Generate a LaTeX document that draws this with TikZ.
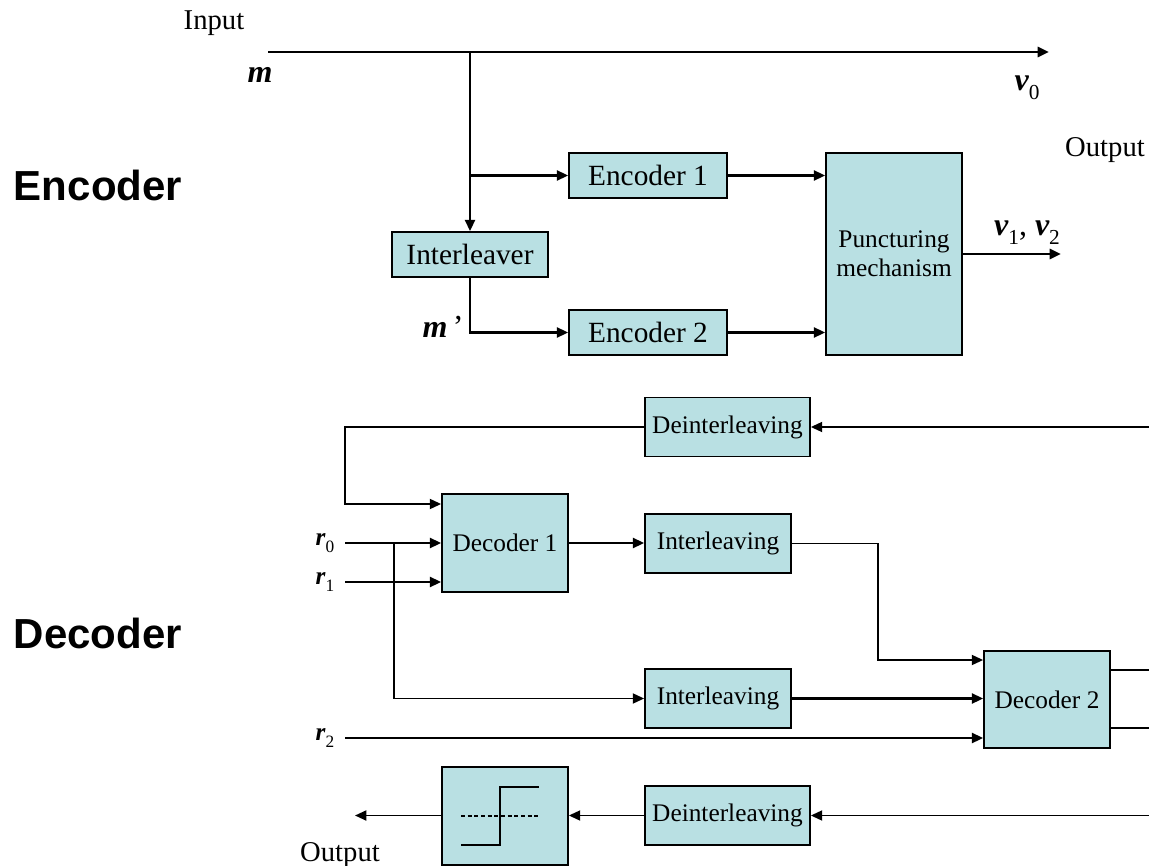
\documentclass[tikz,border=0pt]{standalone}
\usepackage{fontspec}
\setmainfont{Liberation Serif}
\newfontfamily\arialfont{Liberation Sans}
\usetikzlibrary{arrows.meta}
\definecolor{boxfill}{RGB}{185,224,227}
\newcommand{\bv}[1]{{\bfseries\itshape #1}}
\newcommand{\sbs}[1]{\raisebox{-0.28em}{\fontsize{16pt}{16pt}\selectfont #1}}
\newcommand{\sbr}[1]{\raisebox{-0.28em}{\fontsize{13pt}{13pt}\selectfont #1}}
\begin{document}
\begin{tikzpicture}[x=0.75pt,y=-0.75pt,
  box/.style={draw=black,line width=1.3pt,fill=boxfill,inner sep=0pt,font=\fontsize{19pt}{22pt}\selectfont,align=center},
  ebox/.style={box,font=\fontsize{22pt}{24pt}\selectfont},
  wire/.style={line width=1.4pt},
  thk/.style={line width=2pt},
  arr/.style={-{Triangle[length=8.5pt,width=7.5pt]}},
  lbl/.style={font=\fontsize{21.5pt}{24pt}\selectfont,inner sep=0pt},
  vlbl/.style={font=\fontsize{24pt}{26pt}\selectfont,inner sep=0pt},
  rlbl/.style={font=\fontsize{19pt}{21pt}\selectfont,inner sep=0pt},
  big/.style={font=\arialfont\bfseries\fontsize{31.5pt}{34pt}\selectfont,inner sep=0pt}]
\useasboundingbox (0,0) rectangle (1149,866);

% ---------------- Encoder ----------------
\node[big] (enclab) at (98,185) {Encoder};
\node[lbl] (inlab) at (214,23) {Input};
\node[vlbl] (mlab) at (260,75) {\bv{m}};
\node[vlbl] (v0lab) at (1027,88) {\bv{v}\sbs{0}};
\node[lbl] (outlab) at (1105,150) {Output};
\node[vlbl] (v12lab) at (1027,233) {\bv{v}\sbs{1}, \bv{v}\sbs{2}};
\node[vlbl] (mplab) at (443,327) {\bv{m}\,’};

\node[ebox,minimum width={158*0.75pt},minimum height={45*0.75pt}] (enc1) at (648,175.5) {Encoder 1};
\node[ebox,minimum width={158*0.75pt},minimum height={45*0.75pt}] (enc2) at (648,332.5) {Encoder 2};
\node[ebox,minimum width={156*0.75pt},minimum height={45*0.75pt}] (intl) at (470,254.5) {Interleaver};
\node[box,minimum width={136*0.75pt},minimum height={202*0.75pt}] (punct) at (894,254) {Puncturing\\mechanism};

\coordinate (in) at (268,52);
\coordinate (br) at (470,52);
\coordinate (v0end) at (1049,52);
\coordinate (v12end) at (1061,254);

\draw[thk,arr] (in) -- (v0end);
\draw[thk,arr] (br) -- (intl.north);
\draw[thk,arr] (br |- enc1.west) -- (enc1.west);
\draw[thk,arr] (enc1.east) -- (punct.west |- enc1.east);
\draw[thk,arr] (intl.south) |- (enc2.west);
\draw[thk,arr] (enc2.east) -- (punct.west |- enc2.east);
\draw[thk,arr] (punct.east) -- (v12end);

% ---------------- Decoder ----------------
\node[big] (declab) at (98,633) {Decoder};

\node[box,minimum width={165*0.75pt},minimum height={59*0.75pt}] (deint1) at (727.5,427) {Deinterleaving};
\node[box,minimum width={126*0.75pt},minimum height={98*0.75pt}] (dec1) at (505,543) {Decoder 1};
\node[box,minimum width={146*0.75pt},minimum height={59*0.75pt}] (il1) at (718,543.5) {Interleaving};
\node[box,minimum width={146*0.75pt},minimum height={59*0.75pt}] (il2) at (718,698.5) {Interleaving};
\node[box,minimum width={126*0.75pt},minimum height={97*0.75pt}] (dec2) at (1047,699.5) {Decoder 2};
\node[box,minimum width={165*0.75pt},minimum height={59*0.75pt}] (deint2) at (727.5,815.5) {Deinterleaving};
\node[box,minimum width={126*0.75pt},minimum height={98*0.75pt}] (hard) at (505,816) {};

\node[rlbl] (r0lab) at (325,543) {\bv{r}\sbr{0}};
\node[rlbl] (r1lab) at (325,582) {\bv{r}\sbr{1}};
\node[rlbl] (r2lab) at (325,738) {\bv{r}\sbr{2}};
\node[lbl] (outlab2) at (340,855) {Output};

\coordinate (din1) at (1149,427);
\coordinate (l1) at (345,504);
\coordinate (r0) at (345,543);
\coordinate (r1) at (345,582);
\coordinate (r2) at (345,738);
\coordinate (b2) at (394,543);
\coordinate (k) at (878,660);
\coordinate (o1) at (1149,670);
\coordinate (o2) at (1149,728);
\coordinate (din2) at (1149,815.5);
\coordinate (outend) at (355,815.5);

\draw[wire,arr] (din1) -- (deint1.east);
\draw[wire,arr] (deint1.west) -| (l1) -- (dec1.west |- l1);
\draw[thk,arr] (r0) -- (dec1.west);
\draw[thk,arr] (r1) -- (dec1.west |- r1);
\draw[wire,arr] (b2) |- (il2.west);
\draw[thk,arr] (dec1.east) -- (il1.west |- dec1.east);
\draw[wire,arr] (il1.east) -| (k) -- (dec2.west |- k);
\draw[thk,arr] (il2.east) -- (dec2.west |- il2.east);
\draw[thk,arr] (r2) -- (dec2.west |- r2);
\draw[wire] (dec2.east |- o1) -- (o1);
\draw[wire] (dec2.east |- o2) -- (o2);
\draw[wire,arr] (din2) -- (deint2.east);
\draw[wire,arr] (deint2.west) -- (hard.east |- deint2.west);
\draw[wire,arr] (hard.west |- outend) -- (outend);

% hard-decision symbol
\draw[wire] (461,845) -- (500,845) -- (500,787) -- (539,787);
\draw[line width=0.9pt,dash pattern=on 3pt off 2pt] (461,816) -- (539,816);
\end{tikzpicture}
\end{document}
